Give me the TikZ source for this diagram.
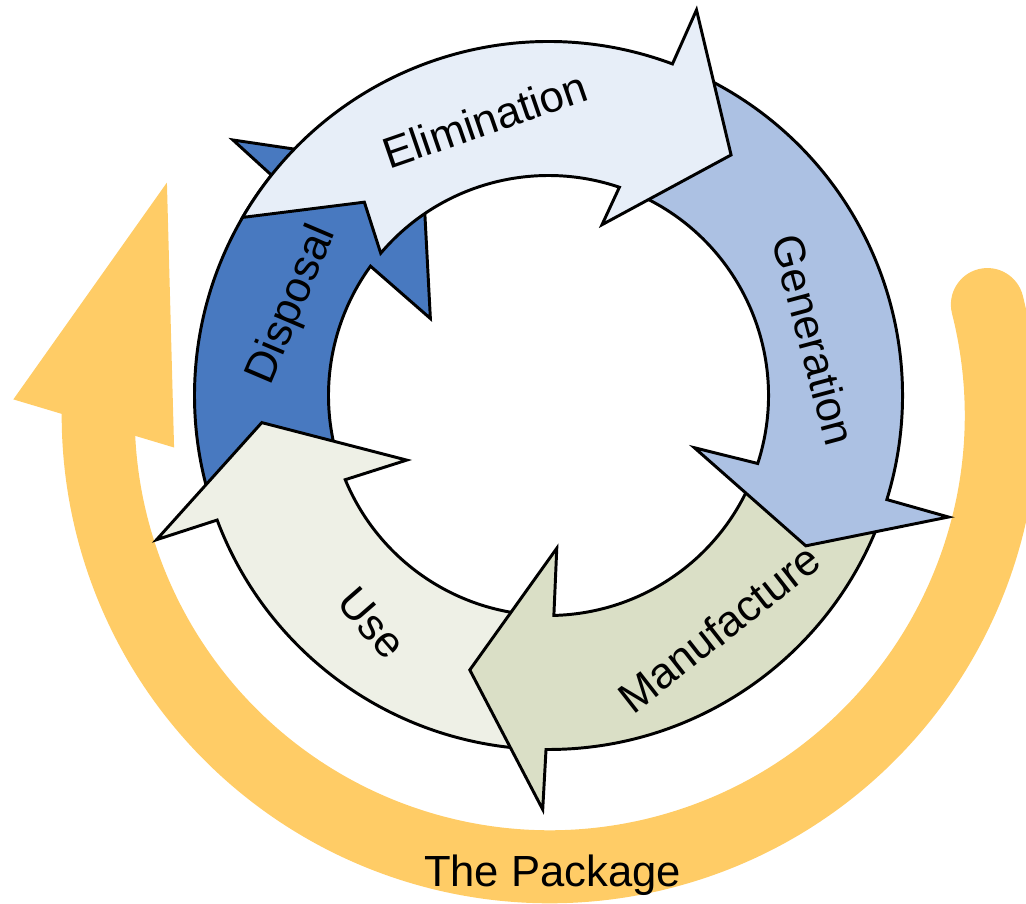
\documentclass[tikz,border=0pt]{standalone}
\usepackage{fontspec}
\setmainfont{Liberation Sans}
\usepackage{tikz}
\usepackage{xcolor}
\definecolor{elimcol}{RGB}{231,238,248}
\definecolor{gencol}{RGB}{172,193,227}
\definecolor{manucol}{RGB}{218,223,198}
\definecolor{usecol}{RGB}{238,240,230}
\definecolor{dispcol}{RGB}{72,121,192}
\definecolor{pkgcol}{RGB}{255,204,102}

\begin{document}
\begin{tikzpicture}[x=0.025cm,y=0.025cm,
  ringarrow/.style={draw=black,line width=2.1pt},
  ringlabel/.style={font=\fontsize{31}{36}\selectfont,inner sep=0pt}]
\useasboundingbox (-548.5,-507.5) rectangle (477.5,395.5);
\begin{scope}[shift={(1.2,-19.8)}]
\draw [pkgcol,line width=1.825cm,line cap=round] (14.2:451.5) arc[start angle=14.2,end angle=-180,radius=451.5];
\fill [pkgcol] (178.3:536.6) -- (148.7:448) -- (184.9:377) -- cycle;
\end{scope}
\draw [ringarrow,fill=dispcol] (198:354) arc[start angle=198,end angle=141.5,radius=354] -- (141:406) -- (119:260) -- (146.9:141) -- (144:220) arc[start angle=144,end angle=200,radius=220] -- (194:287) -- cycle;
\draw [ringarrow,fill=usecol] (-93:354) arc[start angle=-93,end angle=-159.4,radius=354] -- (-159.8:417.6) -- (-174.6:288) -- (-155.5:155.8) -- (-157.5:220) arc[start angle=-157.5,end angle=-95,radius=220] -- (-98:287) -- cycle;
\draw [ringarrow,fill=manucol] (-19.5:354) arc[start angle=-19.5,end angle=-90.4,radius=354] -- (-90.8:414) -- (-106:285.5) -- (-86.9:153) -- (-88.6:220) arc[start angle=-88.6,end angle=-21,radius=220] -- (-24:287) -- cycle;
\draw [ringarrow,fill=gencol] (64:354) arc[start angle=64,end angle=-17.1,radius=354] -- (-16.9:418) -- (-30.3:298) -- (-19.7:155) -- (-18:220) arc[start angle=-18,end angle=69,radius=220] -- (61:287) -- cycle;
\draw [ringarrow,fill=elimcol] (149.8:354) arc[start angle=149.8,end angle=69.5,radius=354] -- (69:413) -- (52.8:302) -- (72.6:179) -- (71.2:220) arc[start angle=71.2,end angle=139.7,radius=220] -- (133.6:267) -- cycle;
\node [ringlabel,rotate=19] (elimination) at (-63.5,275.5) {Elimination};
\node [ringlabel,rotate=-75] (generation) at (265.5,55.5) {Generation};
\node [ringlabel,rotate=38] (manufacture) at (170.5,-232.8) {Manufacture};
\node [ringlabel,rotate=-49] (use) at (-176.8,-227.8) {Use};
\node [ringlabel,rotate=67] (disposal) at (-256,90.5) {Disposal};
\node [ringlabel,anchor=base] (package) at (4,-491.2) {The Package};
\end{tikzpicture}
\end{document}
